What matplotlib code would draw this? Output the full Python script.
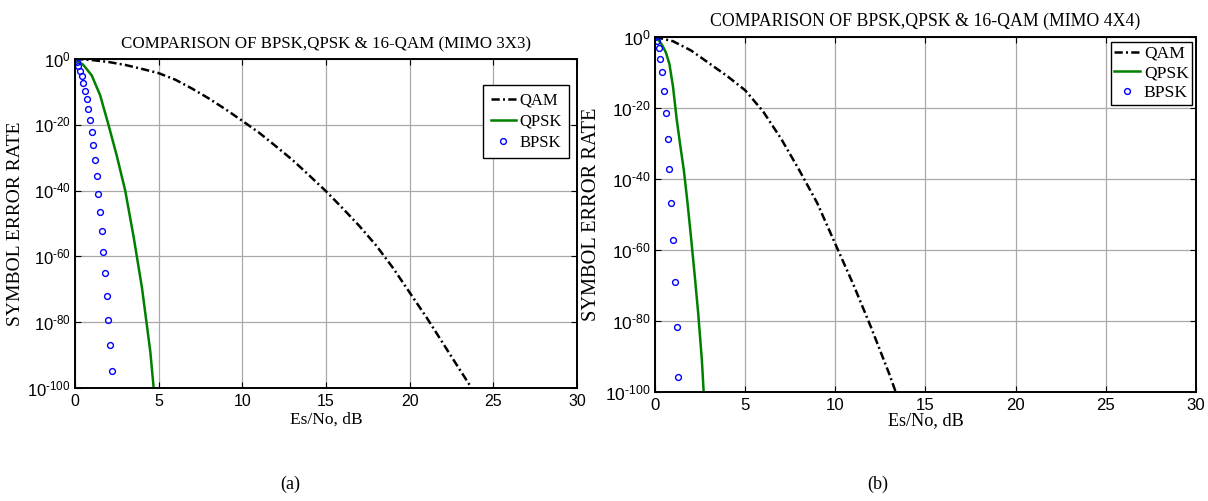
import numpy as np
import matplotlib
matplotlib.use('Agg')
import matplotlib.pyplot as plt

plt.rcParams['font.family'] = ['Liberation Serif', 'DejaVu Serif']
plt.rcParams['mathtext.fontset'] = 'custom'
plt.rcParams['mathtext.rm'] = 'Liberation Sans'
plt.rcParams['mathtext.it'] = 'Liberation Sans'

# ---- (a) MIMO 3x3 : values given as log10(SER) ----
qam_a_x = [0, 1, 2, 3, 4, 5, 6, 7, 8, 9, 10, 11, 12, 13, 14, 15, 16, 17, 18, 19, 20, 21, 22, 23, 23.7]
qam_a_exp = [0, -0.3, -0.9, -1.8, -3.0, -4.3, -6.3, -9.0, -12.0, -15.3, -18.8, -22.4, -26.5, -30.7,
             -35.4, -40.2, -45.4, -50.8, -56.7, -63.5, -71.0, -78.5, -86.5, -94.5, -100]
qpsk_a_x = [0, 0.5, 1.0, 1.5, 2.0, 2.5, 3.0, 3.5, 4.0, 4.5, 4.7]
qpsk_a_exp = [0, -1.8, -5.0, -11.0, -20.0, -29.5, -40.0, -54.0, -69.5, -89.0, -100]
bpsk_a_x = [0, 0.1, 0.2, 0.3, 0.4, 0.5, 0.6, 0.7, 0.8, 0.9, 1.0, 1.1, 1.2, 1.3, 1.4, 1.5,
            1.6, 1.7, 1.8, 1.9, 2.0, 2.1, 2.2]
bpsk_a_exp = [0, -1.0, -2.2, -3.6, -5.3, -7.3, -9.6, -12.2, -15.1, -18.4, -22.1, -26.2, -30.7,
              -35.6, -40.9, -46.5, -52.4, -58.6, -65.1, -72.0, -79.3, -86.8, -94.7]

# ---- (b) MIMO 4x4 ----
qam_b_x = [0, 1, 2, 3, 4, 5, 6, 7, 8, 9, 10, 11, 12, 13, 13.35]
qam_b_exp = [0, -1.2, -3.8, -7.4, -11.0, -15.0, -21.0, -28.7, -37.5, -46.8, -58.3, -69.7, -82.0, -95.0, -100]
qpsk_b_x = [0, 0.2, 0.4, 0.6, 0.8, 1.0, 1.2, 1.4, 1.6, 1.8, 2.0, 2.2, 2.4, 2.6, 2.7]
qpsk_b_exp = [0, -0.9, -2.3, -4.3, -7.6, -14.0, -23.0, -30.5, -37.5, -46.5, -56.5, -67.0, -78.0, -91.0, -100]
bpsk_b_x = [0, 0.1, 0.2, 0.3, 0.4, 0.5, 0.6, 0.7, 0.8, 0.9, 1.0, 1.1, 1.2, 1.3]
bpsk_b_exp = [0, -1.2, -3.1, -6.1, -10.0, -15.2, -21.4, -28.7, -37.1, -46.8, -57.3, -69.0, -81.8, -95.9]

titles = ['COMPARISON OF BPSK,QPSK & 16-QAM (MIMO 3X3)',
          'COMPARISON OF BPSK,QPSK & 16-QAM (MIMO 4X4)']
captions = ['(a)', '(b)']
yticks = [0, -20, -40, -60, -80, -100]
xticks = [0, 5, 10, 15, 20, 25, 30]

fig = plt.figure(figsize=(12.08, 5.01), dpi=100)
ax_a = fig.add_axes([0.0621, 0.2255, 0.4156, 0.6567])
ax_b = fig.add_axes([0.5422, 0.2176, 0.4478, 0.7086])

# per panel: axes, data, legend anchor, legend spacing/pad, xlabel y, ylabel x, font scale
panels = [
    (ax_a, qam_a_x, qam_a_exp, qpsk_a_x, qpsk_a_exp, bpsk_a_x, bpsk_a_exp,
     (0.984, 0.921), 0.3, 0.45, -0.073, -0.1016, 1.0),
    (ax_b, qam_b_x, qam_b_exp, qpsk_b_x, qpsk_b_exp, bpsk_b_x, bpsk_b_exp,
     (0.993, 0.986), 0.2, 0.2, -0.058, -0.0998, 1.05),
]

for i, (ax, qx, qe, px, pe, bx, be, leg_pos, lsp, bpad, xl_y, yl_x, k) in enumerate(panels):
    ax.semilogy(qx, 10.0 ** np.array(qe), color='black', lw=1.8,
                ls=(0, (3.3, 1.3, 0.8, 1.3)), label='QAM')
    ax.semilogy(px, 10.0 ** np.array(pe), color=(0, 0.5, 0), lw=1.8, label='QPSK')
    ax.semilogy(bx, 10.0 ** np.array(be), ls='none', marker='o', ms=4.2, mew=1.0,
                mfc='none', mec='blue', label='BPSK')

    ax.set_xlim(0, 30)
    ax.set_ylim(1e-100, 1e0)
    ax.set_xticks(xticks)
    ax.set_xticklabels([str(t) for t in xticks], family='Liberation Sans', fontsize=11.5 * k)
    ax.set_yticks([10.0 ** t for t in yticks])
    ax.set_yticklabels([r'$10^{\text{%s}}$' % (str(t) if t < 0 else '0') for t in yticks],
                       fontsize=12 * k)
    ax.minorticks_off()
    ax.tick_params(direction='in', length=4, width=0.8, top=True, right=True)
    ax.tick_params(axis='x', pad=4)
    ax.tick_params(axis='y', pad=3)
    ax.grid(True, color='#a8a8a8', lw=0.9)
    for s in ax.spines.values():
        s.set_linewidth(1.4)

    ax.set_title(titles[i], fontsize=12.2 * k, pad=8)
    ax.set_xlabel('Es/No, dB', fontsize=12.5 * k)
    ax.xaxis.set_label_coords(0.5, xl_y)
    ax.set_ylabel('SYMBOL ERROR RATE', fontsize=14 * k)
    ax.yaxis.set_label_coords(yl_x, 0.5)

    leg = ax.legend(loc='upper right', bbox_to_anchor=leg_pos, fontsize=12 * k, fancybox=False,
                    framealpha=1, edgecolor='black', handlelength=1.5, handletextpad=0.2,
                    labelspacing=lsp, borderpad=bpad, borderaxespad=0)
    leg.get_frame().set_linewidth(1.0)

fig.text(290 / 1208, 1 - 484 / 501, captions[0], fontsize=13, ha='center', va='center')
fig.text(878 / 1208, 1 - 484 / 501, captions[1], fontsize=13, ha='center', va='center')

fig.savefig('out.png', dpi=100)
